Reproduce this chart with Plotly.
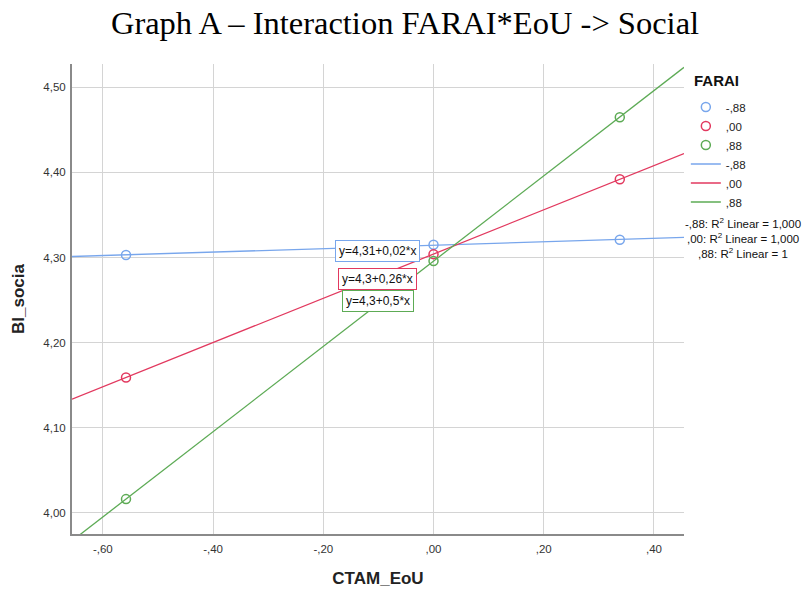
import numpy as np
import plotly.graph_objects as go

# ---- data ----
ctam_eou = [-0.558, 0.0, 0.338]
farai_levels = ["-,88", ",00", ",88"]
bi_social_neg = [4.303, 4.315, 4.321]
bi_social_zero = [4.159, 4.304, 4.392]
bi_social_pos = [4.016, 4.296, 4.465]
equations = ["y=4,31+0,02*x", "y=4,3+0,26*x", "y=4,3+0,5*x"]
r2_labels = ["-,88: R<sup>2</sup> Linear = 1,000",
             ",00: R<sup>2</sup> Linear = 1,000",
             ",88: R<sup>2</sup> Linear = 1"]
x_tickvals = [-0.6, -0.4, -0.2, 0.0, 0.2, 0.4]
x_ticktext = ["-,60", "-,40", "-,20", ",00", ",20", ",40"]
y_tickvals = [4.0, 4.1, 4.2, 4.3, 4.4, 4.5]
y_ticktext = ["4,00", "4,10", "4,20", "4,30", "4,40", "4,50"]

colors = ["#78a6ec", "#e2395f", "#5dab55"]
series = [bi_social_neg, bi_social_zero, bi_social_pos]

x_range = [-0.656, 0.4545]
y_range = [3.975, 4.5275]

FONT = "Liberation Sans, Arial, sans-serif"

W, H = 803, 591
ml, mr, mt, mb = 72, 119, 64, 57
pw, ph = W - ml - mr, H - mt - mb

fig = go.Figure()

# scatter points
for name, ys, c in zip(farai_levels, series, colors):
    fig.add_trace(go.Scatter(
        x=ctam_eou, y=ys, mode="markers", name=name,
        marker=dict(symbol="circle-open", size=9, color=c, line=dict(width=1.5, color=c)),
    ))

# fit lines
xs_fit = np.array(x_range)
for name, ys, c in zip(farai_levels, series, colors):
    b, a = np.polyfit(ctam_eou, ys, 1)
    fig.add_trace(go.Scatter(
        x=xs_fit, y=a + b * xs_fit, mode="lines", name=name,
        line=dict(color=c, width=1.3),
    ))

# equation labels
eq_pos = [(-0.102, 4.3073), (-0.101, 4.2742), (-0.101, 4.2494)]
for txt, (ex, ey), c in zip(equations, eq_pos, colors):
    fig.add_annotation(
        x=ex, y=ey, xref="x", yref="y", text=txt, showarrow=False,
        font=dict(family=FONT, size=12, color="#111"),
        bgcolor="white", bordercolor=c, borderwidth=1, borderpad=3,
    )

# R2 labels (pixel positions -> paper)
for i, txt in enumerate(r2_labels):
    fig.add_annotation(
        x=(743 - ml) / pw, y=1 - (223 + i * 15 - mt) / ph,
        xref="paper", yref="paper", text=txt, showarrow=False,
        font=dict(family=FONT, size=11.5, color="#111"),
        xanchor="center", yanchor="middle",
    )

# legend title
fig.add_annotation(
    x=(692 - ml) / pw, y=1 - (80 - mt) / ph, xref="paper", yref="paper",
    text="<b>FARAI</b>", showarrow=False, xanchor="left", yanchor="middle",
    font=dict(family=FONT, size=15, color="#111"),
)

fig.update_layout(
    width=W, height=H,
    margin=dict(l=ml, r=mr, t=mt, b=mb, autoexpand=False),
    paper_bgcolor="white", plot_bgcolor="white",
    font=dict(family=FONT, color="#222"),
    title=dict(
        text="Graph A \u2013 Interaction FARAI*EoU -> Social",
        font=dict(family="Liberation Serif, Times New Roman, serif", size=32.5, color="black"),
        x=405 / W, xref="container", xanchor="center",
        y=1 - 23 / H, yref="container", yanchor="middle",
    ),
    xaxis=dict(
        range=x_range, tickvals=x_tickvals, ticktext=x_ticktext,
        showgrid=True, gridcolor="#d4d4d4", gridwidth=1.2,
        showline=True, linecolor="#8a8a8a", linewidth=2,
        zeroline=False, ticks="", tickfont=dict(size=11.5, color="#333"),
        ticklabelstandoff=3,
        title=dict(text="<b>CTAM_EoU</b>", font=dict(size=17, color="#222"), standoff=18),
    ),
    yaxis=dict(
        range=y_range, tickvals=y_tickvals, ticktext=y_ticktext,
        showgrid=True, gridcolor="#d4d4d4", gridwidth=1.2,
        showline=True, linecolor="#8a8a8a", linewidth=2,
        zeroline=False, ticks="", tickfont=dict(size=11.5, color="#333"),
        ticklabelstandoff=2,
        title=dict(text="<b>BI_socia</b>", font=dict(size=17, color="#222"), standoff=14),
    ),
    legend=dict(
        x=1.003, xanchor="left", y=1 - (92.5 - mt) / ph, yanchor="top",
        font=dict(size=11.5, color="#222"), tracegroupgap=0,
        bgcolor="rgba(0,0,0,0)", itemwidth=30,
    ),
)

fig.write_html("out.html", post_script="document.body.style.margin='0';",
               config={"displayModeBar": False})
